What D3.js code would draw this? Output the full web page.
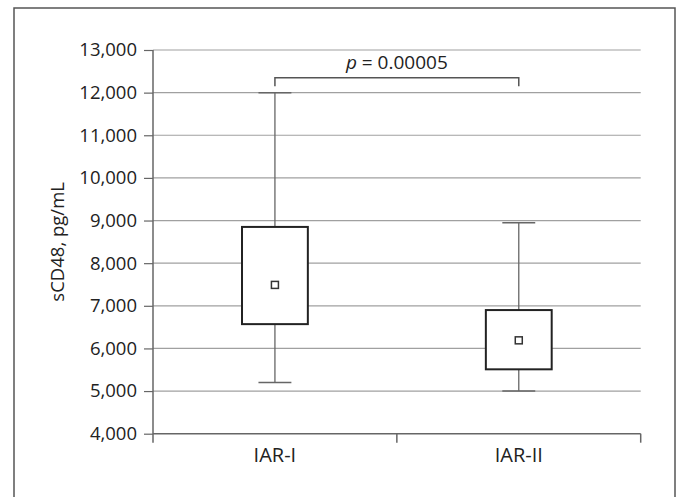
<!DOCTYPE html>
<html>
<head>
<meta charset="utf-8">
<script src="https://cdn.jsdelivr.net/npm/d3@7"></script>
<style>
  body { margin: 0; background: #fff; }
  svg { display: block; font-family: "Open Sans", sans-serif; }
</style>
</head>
<body>
<div id="chart"></div>
<script>
// values
const categories = ["IAR-I", "IAR-II"];
const whiskerLow = [5200, 5000];
const q1 = [6570, 5510];
const q3 = [8850, 6900];
const whiskerHigh = [12000, 8950];
const means = [7490, 6190];
const yTicks = [4000, 5000, 6000, 7000, 8000, 9000, 10000, 11000, 12000, 13000];
const bracketValue = 12350;
const pLabel = "0.00005";

const W = 680, H = 497;
const margin = { left: 153, right: 39.3, top: 50, bottom: 63.3 };

const svg = d3.select("#chart").append("svg")
  .attr("width", W)
  .attr("height", H);

// outer frame (bottom runs off the picture)
svg.append("path")
  .attr("d", `M14,${H + 2}V8H675V${H + 2}`)
  .attr("fill", "none")
  .attr("stroke", "#555")
  .attr("stroke-width", 1.5);

const x = d3.scaleBand()
  .domain(categories)
  .range([margin.left, W - margin.right])
  .padding(0);

const y = d3.scaleLinear()
  .domain([yTicks[0], yTicks[yTicks.length - 1]])
  .range([H - margin.bottom, margin.top]);

const data = categories.map((c, i) => ({
  name: c, lo: whiskerLow[i], q1: q1[i], q3: q3[i], hi: whiskerHigh[i], mean: means[i]
}));

// grid lines
svg.append("g")
  .selectAll("line")
  .data(yTicks.slice(1))
  .join("line")
  .attr("x1", margin.left)
  .attr("x2", W - margin.right)
  .attr("y1", d => y(d))
  .attr("y2", d => y(d))
  .attr("stroke", "#a0a0a0")
  .attr("stroke-width", 1.2);

// y axis
const yAxis = svg.append("g")
  .attr("transform", `translate(${margin.left},0)`)
  .call(d3.axisLeft(y).tickValues(yTicks).tickSize(9).tickPadding(7).tickFormat(d3.format(",")));
yAxis.select(".domain").remove();
yAxis.selectAll(".tick line").attr("stroke", "#666").attr("stroke-width", 1.2);
yAxis.selectAll("text").attr("fill", "#222").style("font-size", "18.5px").style("font-family", "Open Sans");

// x axis: line plus ticks at band edges
const x0 = y.range()[0];
svg.append("line")
  .attr("x1", margin.left).attr("x2", W - margin.right)
  .attr("y1", x0).attr("y2", x0)
  .attr("stroke", "#666").attr("stroke-width", 1.5);
svg.append("line")
  .attr("x1", margin.left).attr("x2", margin.left)
  .attr("y1", margin.top).attr("y2", x0 + 9)
  .attr("stroke", "#666").attr("stroke-width", 1.5);
const edges = categories.map(c => x(c) + x.bandwidth());
svg.append("g")
  .selectAll("line")
  .data(edges)
  .join("line")
  .attr("x1", d => d).attr("x2", d => d)
  .attr("y1", x0).attr("y2", x0 + 9)
  .attr("stroke", "#666").attr("stroke-width", 1.5);

svg.append("g")
  .selectAll("text")
  .data(categories)
  .join("text")
  .attr("x", d => x(d) + x.bandwidth() / 2)
  .attr("y", x0 + 28.5)
  .attr("text-anchor", "middle")
  .attr("fill", "#222")
  .style("font-size", "20px")
  .text(d => d);

// y title
svg.append("text")
  .attr("transform", `translate(64,${(margin.top + x0) / 2}) rotate(-90)`)
  .attr("text-anchor", "middle")
  .attr("fill", "#222")
  .style("font-size", "18.5px")
  .text("sCD48, pg/mL");

// boxes
const boxW = x.bandwidth() * 0.27;
const capW = x.bandwidth() * 0.135;
const g = svg.append("g")
  .selectAll("g")
  .data(data)
  .join("g")
  .attr("transform", d => `translate(${x(d.name) + x.bandwidth() / 2},0)`);

g.append("line")
  .attr("y1", d => y(d.hi)).attr("y2", d => y(d.lo))
  .attr("stroke", "#666").attr("stroke-width", 1.3);
g.append("line")
  .attr("x1", -capW / 2).attr("x2", capW / 2)
  .attr("y1", d => y(d.hi)).attr("y2", d => y(d.hi))
  .attr("stroke", "#666").attr("stroke-width", 1.5);
g.append("line")
  .attr("x1", -capW / 2).attr("x2", capW / 2)
  .attr("y1", d => y(d.lo)).attr("y2", d => y(d.lo))
  .attr("stroke", "#666").attr("stroke-width", 1.5);
g.append("rect")
  .attr("x", -boxW / 2)
  .attr("width", boxW)
  .attr("y", d => y(d.q3))
  .attr("height", d => y(d.q1) - y(d.q3))
  .attr("fill", "#fff")
  .attr("stroke", "#222")
  .attr("stroke-width", 2);
g.append("rect")
  .attr("x", -3.5)
  .attr("width", 7)
  .attr("y", d => y(d.mean) - 3.5)
  .attr("height", 7)
  .attr("fill", "#fff")
  .attr("stroke", "#333")
  .attr("stroke-width", 1.5);

// significance bracket
const cx = categories.map(c => x(c) + x.bandwidth() / 2);
const by = y(bracketValue);
svg.append("path")
  .attr("d", `M${cx[0]},${by + 8.5}V${by}H${cx[1]}V${by + 8.5}`)
  .attr("fill", "none")
  .attr("stroke", "#555")
  .attr("stroke-width", 1.5);

const pt = svg.append("text")
  .attr("x", (cx[0] + cx[1]) / 2)
  .attr("y", by - 8.5)
  .attr("text-anchor", "middle")
  .attr("fill", "#222")
  .style("font-size", "19px");
pt.append("tspan").style("font-style", "italic").text("p");
pt.append("tspan").text(" = " + pLabel);
</script>
</body>
</html>
